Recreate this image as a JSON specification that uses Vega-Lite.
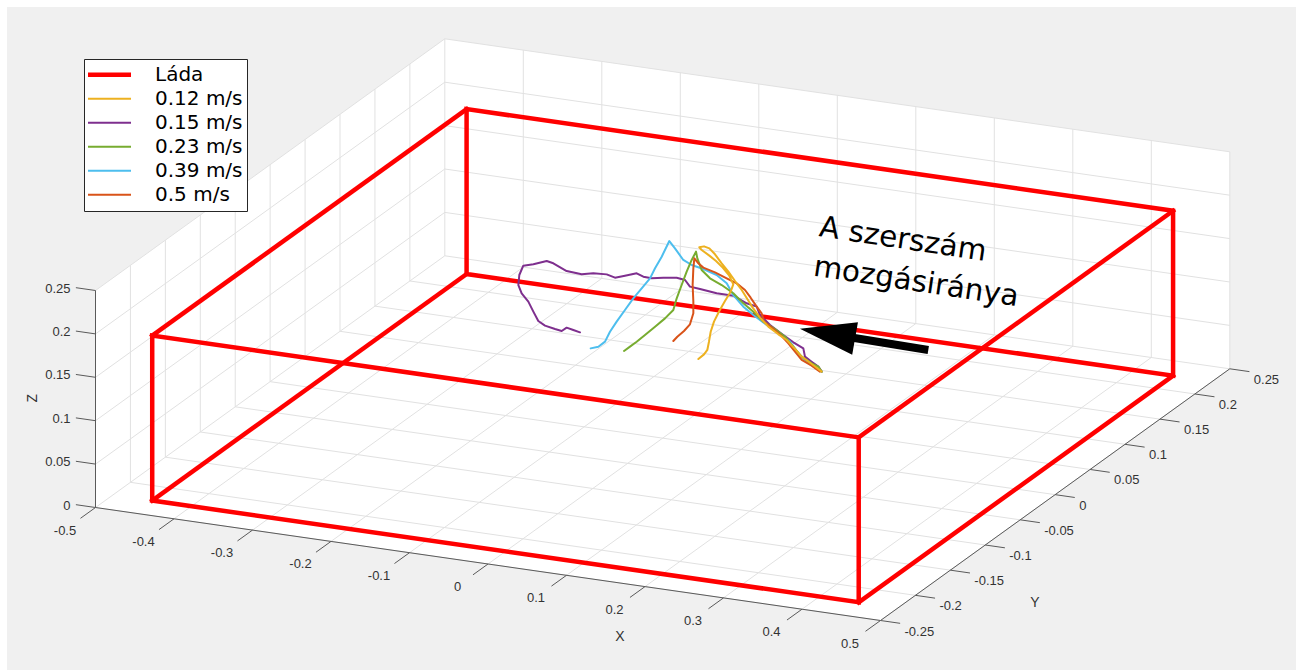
{
"$schema":"https://vega.github.io/schema/vega-lite/v6.json",
"width":1296,"height":670,
"autosize":{"type":"fit","contains":"padding"},
"padding":{"left":7,"top":7,"right":0,"bottom":0},
"background":"white",
"config":{"view":{"fill":"#f0f0f0","stroke":null}},
"datasets":{
"face":[
{"xt":-0.5,"yt":-0.25,"zt":0.25,"xb":-0.5,"yb":-0.25,"zb":0},
{"xt":-0.5,"yt":0.25,"zt":0.25,"xb":-0.05503,"yb":-0.25,"zb":0},
{"xt":0.05503,"yt":0.25,"zt":0.25,"xb":0.5,"yb":-0.25,"zb":0},
{"xt":0.5,"yt":0.25,"zt":0.25,"xb":0.5,"yb":0.25,"zb":0}],
"segs":[
{"k":"g","x1":-0.5,"y1":-0.25,"z1":0,"x2":-0.5,"y2":0.25,"z2":0},
{"k":"g","x1":-0.4,"y1":-0.25,"z1":0,"x2":-0.4,"y2":0.25,"z2":0},
{"k":"g","x1":-0.3,"y1":-0.25,"z1":0,"x2":-0.3,"y2":0.25,"z2":0},
{"k":"g","x1":-0.2,"y1":-0.25,"z1":0,"x2":-0.2,"y2":0.25,"z2":0},
{"k":"g","x1":-0.1,"y1":-0.25,"z1":0,"x2":-0.1,"y2":0.25,"z2":0},
{"k":"g","x1":0,"y1":-0.25,"z1":0,"x2":0,"y2":0.25,"z2":0},
{"k":"g","x1":0.1,"y1":-0.25,"z1":0,"x2":0.1,"y2":0.25,"z2":0},
{"k":"g","x1":0.2,"y1":-0.25,"z1":0,"x2":0.2,"y2":0.25,"z2":0},
{"k":"g","x1":0.3,"y1":-0.25,"z1":0,"x2":0.3,"y2":0.25,"z2":0},
{"k":"g","x1":0.4,"y1":-0.25,"z1":0,"x2":0.4,"y2":0.25,"z2":0},
{"k":"g","x1":0.5,"y1":-0.25,"z1":0,"x2":0.5,"y2":0.25,"z2":0},
{"k":"g","x1":-0.5,"y1":-0.25,"z1":0,"x2":0.5,"y2":-0.25,"z2":0},
{"k":"g","x1":-0.5,"y1":-0.2,"z1":0,"x2":0.5,"y2":-0.2,"z2":0},
{"k":"g","x1":-0.5,"y1":-0.15,"z1":0,"x2":0.5,"y2":-0.15,"z2":0},
{"k":"g","x1":-0.5,"y1":-0.1,"z1":0,"x2":0.5,"y2":-0.1,"z2":0},
{"k":"g","x1":-0.5,"y1":-0.05,"z1":0,"x2":0.5,"y2":-0.05,"z2":0},
{"k":"g","x1":-0.5,"y1":0,"z1":0,"x2":0.5,"y2":0,"z2":0},
{"k":"g","x1":-0.5,"y1":0.05,"z1":0,"x2":0.5,"y2":0.05,"z2":0},
{"k":"g","x1":-0.5,"y1":0.1,"z1":0,"x2":0.5,"y2":0.1,"z2":0},
{"k":"g","x1":-0.5,"y1":0.15,"z1":0,"x2":0.5,"y2":0.15,"z2":0},
{"k":"g","x1":-0.5,"y1":0.2,"z1":0,"x2":0.5,"y2":0.2,"z2":0},
{"k":"g","x1":-0.5,"y1":0.25,"z1":0,"x2":0.5,"y2":0.25,"z2":0},
{"k":"g","x1":-0.5,"y1":-0.25,"z1":0,"x2":-0.5,"y2":-0.25,"z2":0.25},
{"k":"g","x1":-0.5,"y1":-0.2,"z1":0,"x2":-0.5,"y2":-0.2,"z2":0.25},
{"k":"g","x1":-0.5,"y1":-0.15,"z1":0,"x2":-0.5,"y2":-0.15,"z2":0.25},
{"k":"g","x1":-0.5,"y1":-0.1,"z1":0,"x2":-0.5,"y2":-0.1,"z2":0.25},
{"k":"g","x1":-0.5,"y1":-0.05,"z1":0,"x2":-0.5,"y2":-0.05,"z2":0.25},
{"k":"g","x1":-0.5,"y1":0,"z1":0,"x2":-0.5,"y2":0,"z2":0.25},
{"k":"g","x1":-0.5,"y1":0.05,"z1":0,"x2":-0.5,"y2":0.05,"z2":0.25},
{"k":"g","x1":-0.5,"y1":0.1,"z1":0,"x2":-0.5,"y2":0.1,"z2":0.25},
{"k":"g","x1":-0.5,"y1":0.15,"z1":0,"x2":-0.5,"y2":0.15,"z2":0.25},
{"k":"g","x1":-0.5,"y1":0.2,"z1":0,"x2":-0.5,"y2":0.2,"z2":0.25},
{"k":"g","x1":-0.5,"y1":0.25,"z1":0,"x2":-0.5,"y2":0.25,"z2":0.25},
{"k":"g","x1":-0.5,"y1":-0.25,"z1":0.05,"x2":-0.5,"y2":0.25,"z2":0.05},
{"k":"g","x1":-0.5,"y1":-0.25,"z1":0.1,"x2":-0.5,"y2":0.25,"z2":0.1},
{"k":"g","x1":-0.5,"y1":-0.25,"z1":0.15,"x2":-0.5,"y2":0.25,"z2":0.15},
{"k":"g","x1":-0.5,"y1":-0.25,"z1":0.2,"x2":-0.5,"y2":0.25,"z2":0.2},
{"k":"g","x1":-0.5,"y1":-0.25,"z1":0.25,"x2":-0.5,"y2":0.25,"z2":0.25},
{"k":"g","x1":-0.4,"y1":0.25,"z1":0,"x2":-0.4,"y2":0.25,"z2":0.25},
{"k":"g","x1":-0.3,"y1":0.25,"z1":0,"x2":-0.3,"y2":0.25,"z2":0.25},
{"k":"g","x1":-0.2,"y1":0.25,"z1":0,"x2":-0.2,"y2":0.25,"z2":0.25},
{"k":"g","x1":-0.1,"y1":0.25,"z1":0,"x2":-0.1,"y2":0.25,"z2":0.25},
{"k":"g","x1":0,"y1":0.25,"z1":0,"x2":0,"y2":0.25,"z2":0.25},
{"k":"g","x1":0.1,"y1":0.25,"z1":0,"x2":0.1,"y2":0.25,"z2":0.25},
{"k":"g","x1":0.2,"y1":0.25,"z1":0,"x2":0.2,"y2":0.25,"z2":0.25},
{"k":"g","x1":0.3,"y1":0.25,"z1":0,"x2":0.3,"y2":0.25,"z2":0.25},
{"k":"g","x1":0.4,"y1":0.25,"z1":0,"x2":0.4,"y2":0.25,"z2":0.25},
{"k":"g","x1":0.5,"y1":0.25,"z1":0,"x2":0.5,"y2":0.25,"z2":0.25},
{"k":"g","x1":-0.5,"y1":0.25,"z1":0.05,"x2":0.5,"y2":0.25,"z2":0.05},
{"k":"g","x1":-0.5,"y1":0.25,"z1":0.1,"x2":0.5,"y2":0.25,"z2":0.1},
{"k":"g","x1":-0.5,"y1":0.25,"z1":0.15,"x2":0.5,"y2":0.25,"z2":0.15},
{"k":"g","x1":-0.5,"y1":0.25,"z1":0.2,"x2":0.5,"y2":0.25,"z2":0.2},
{"k":"g","x1":-0.5,"y1":0.25,"z1":0.25,"x2":0.5,"y2":0.25,"z2":0.25},
{"k":"a","x1":-0.5,"y1":-0.25,"z1":0,"x2":0.5,"y2":-0.25,"z2":0},
{"k":"a","x1":0.5,"y1":-0.25,"z1":0,"x2":0.5,"y2":0.25,"z2":0},
{"k":"a","x1":-0.5,"y1":-0.25,"z1":0,"x2":-0.5,"y2":-0.25,"z2":0.25},
{"k":"a","x1":-0.5,"y1":-0.25,"z1":0,"x2":-0.5,"y2":-0.2715,"z2":0},
{"k":"a","x1":-0.4,"y1":-0.25,"z1":0,"x2":-0.4,"y2":-0.2715,"z2":0},
{"k":"a","x1":-0.3,"y1":-0.25,"z1":0,"x2":-0.3,"y2":-0.2715,"z2":0},
{"k":"a","x1":-0.2,"y1":-0.25,"z1":0,"x2":-0.2,"y2":-0.2715,"z2":0},
{"k":"a","x1":-0.1,"y1":-0.25,"z1":0,"x2":-0.1,"y2":-0.2715,"z2":0},
{"k":"a","x1":0,"y1":-0.25,"z1":0,"x2":0,"y2":-0.2715,"z2":0},
{"k":"a","x1":0.1,"y1":-0.25,"z1":0,"x2":0.1,"y2":-0.2715,"z2":0},
{"k":"a","x1":0.2,"y1":-0.25,"z1":0,"x2":0.2,"y2":-0.2715,"z2":0},
{"k":"a","x1":0.3,"y1":-0.25,"z1":0,"x2":0.3,"y2":-0.2715,"z2":0},
{"k":"a","x1":0.4,"y1":-0.25,"z1":0,"x2":0.4,"y2":-0.2715,"z2":0},
{"k":"a","x1":0.5,"y1":-0.25,"z1":0,"x2":0.5,"y2":-0.2715,"z2":0},
{"k":"a","x1":0.5,"y1":-0.25,"z1":0,"x2":0.525,"y2":-0.25,"z2":0},
{"k":"a","x1":0.5,"y1":-0.2,"z1":0,"x2":0.525,"y2":-0.2,"z2":0},
{"k":"a","x1":0.5,"y1":-0.15,"z1":0,"x2":0.525,"y2":-0.15,"z2":0},
{"k":"a","x1":0.5,"y1":-0.1,"z1":0,"x2":0.525,"y2":-0.1,"z2":0},
{"k":"a","x1":0.5,"y1":-0.05,"z1":0,"x2":0.525,"y2":-0.05,"z2":0},
{"k":"a","x1":0.5,"y1":0,"z1":0,"x2":0.525,"y2":0,"z2":0},
{"k":"a","x1":0.5,"y1":0.05,"z1":0,"x2":0.525,"y2":0.05,"z2":0},
{"k":"a","x1":0.5,"y1":0.1,"z1":0,"x2":0.525,"y2":0.1,"z2":0},
{"k":"a","x1":0.5,"y1":0.15,"z1":0,"x2":0.525,"y2":0.15,"z2":0},
{"k":"a","x1":0.5,"y1":0.2,"z1":0,"x2":0.525,"y2":0.2,"z2":0},
{"k":"a","x1":0.5,"y1":0.25,"z1":0,"x2":0.525,"y2":0.25,"z2":0},
{"k":"a","x1":-0.5,"y1":-0.25,"z1":0,"x2":-0.525,"y2":-0.25,"z2":0},
{"k":"a","x1":-0.5,"y1":-0.25,"z1":0.05,"x2":-0.525,"y2":-0.25,"z2":0.05},
{"k":"a","x1":-0.5,"y1":-0.25,"z1":0.1,"x2":-0.525,"y2":-0.25,"z2":0.1},
{"k":"a","x1":-0.5,"y1":-0.25,"z1":0.15,"x2":-0.525,"y2":-0.25,"z2":0.15},
{"k":"a","x1":-0.5,"y1":-0.25,"z1":0.2,"x2":-0.525,"y2":-0.25,"z2":0.2},
{"k":"a","x1":-0.5,"y1":-0.25,"z1":0.25,"x2":-0.525,"y2":-0.25,"z2":0.25},
{"k":"arrow","x1":0.3384,"y1":0,"z1":0.1456,"x2":0.2345,"y2":0,"z2":0.1474}],
"xlab":[
{"X":-0.5,"Y":-0.25,"Z":0,"t":"-0.5"},{"X":-0.4,"Y":-0.25,"Z":0,"t":"-0.4"},{"X":-0.3,"Y":-0.25,"Z":0,"t":"-0.3"},{"X":-0.2,"Y":-0.25,"Z":0,"t":"-0.2"},{"X":-0.1,"Y":-0.25,"Z":0,"t":"-0.1"},{"X":0,"Y":-0.25,"Z":0,"t":"0"},{"X":0.1,"Y":-0.25,"Z":0,"t":"0.1"},{"X":0.2,"Y":-0.25,"Z":0,"t":"0.2"},{"X":0.3,"Y":-0.25,"Z":0,"t":"0.3"},{"X":0.4,"Y":-0.25,"Z":0,"t":"0.4"},{"X":0.5,"Y":-0.25,"Z":0,"t":"0.5"}],
"ylab":[
{"X":0.5,"Y":-0.25,"Z":0,"t":"-0.25"},{"X":0.5,"Y":-0.2,"Z":0,"t":"-0.2"},{"X":0.5,"Y":-0.15,"Z":0,"t":"-0.15"},{"X":0.5,"Y":-0.1,"Z":0,"t":"-0.1"},{"X":0.5,"Y":-0.05,"Z":0,"t":"-0.05"},{"X":0.5,"Y":0,"Z":0,"t":"0"},{"X":0.5,"Y":0.05,"Z":0,"t":"0.05"},{"X":0.5,"Y":0.1,"Z":0,"t":"0.1"},{"X":0.5,"Y":0.15,"Z":0,"t":"0.15"},{"X":0.5,"Y":0.2,"Z":0,"t":"0.2"},{"X":0.5,"Y":0.25,"Z":0,"t":"0.25"}],
"zlab":[
{"X":-0.5,"Y":-0.25,"Z":0,"t":"0"},{"X":-0.5,"Y":-0.25,"Z":0.05,"t":"0.05"},{"X":-0.5,"Y":-0.25,"Z":0.1,"t":"0.1"},{"X":-0.5,"Y":-0.25,"Z":0.15,"t":"0.15"},{"X":-0.5,"Y":-0.25,"Z":0.2,"t":"0.2"},{"X":-0.5,"Y":-0.25,"Z":0.25,"t":"0.25"}],
"titles":[{"X":0.2482,"Y":-0.3399,"Z":0,"t":"X"},{"X":0.6387,"Y":-0.1847,"Z":0,"t":"Y"}],
"ztitle":[{"X":-0.5792,"Y":-0.25,"Z":0.1155,"t":"Z"}],
"head":[{"X":0.2100,"Y":0,"Z":0.1478}],
"note":[{"X":0.1983,"Y":0,"Z":0.2587,"t":"A szerszám\nmozgásiránya"}],
"box":[
{"s":"Láda","p":"F","i":0,"X":-0.45,"Y":-0.225,"Z":0},{"s":"Láda","p":"F","i":1,"X":0.45,"Y":-0.225,"Z":0},{"s":"Láda","p":"F","i":2,"X":0.45,"Y":-0.225,"Z":0.19},{"s":"Láda","p":"F","i":3,"X":-0.45,"Y":-0.225,"Z":0.19},{"s":"Láda","p":"F","i":4,"X":-0.45,"Y":-0.225,"Z":0},
{"s":"Láda","p":"B","i":0,"X":-0.45,"Y":0.225,"Z":0},{"s":"Láda","p":"B","i":1,"X":0.45,"Y":0.225,"Z":0},{"s":"Láda","p":"B","i":2,"X":0.45,"Y":0.225,"Z":0.19},{"s":"Láda","p":"B","i":3,"X":-0.45,"Y":0.225,"Z":0.19},{"s":"Láda","p":"B","i":4,"X":-0.45,"Y":0.225,"Z":0},
{"s":"Láda","p":"C1","i":0,"X":-0.45,"Y":-0.225,"Z":0},{"s":"Láda","p":"C1","i":1,"X":-0.45,"Y":0.225,"Z":0},
{"s":"Láda","p":"C2","i":0,"X":0.45,"Y":-0.225,"Z":0},{"s":"Láda","p":"C2","i":1,"X":0.45,"Y":0.225,"Z":0},
{"s":"Láda","p":"C3","i":0,"X":0.45,"Y":-0.225,"Z":0.19},{"s":"Láda","p":"C3","i":1,"X":0.45,"Y":0.225,"Z":0.19},
{"s":"Láda","p":"C4","i":0,"X":-0.45,"Y":-0.225,"Z":0.19},{"s":"Láda","p":"C4","i":1,"X":-0.45,"Y":0.225,"Z":0.19}],
"paths":[
{"s":"0.15 m/s","p":"v15","i":0,"X":0.2026,"Y":0,"Z":0.1030},{"s":"0.15 m/s","p":"v15","i":1,"X":0.1983,"Y":0,"Z":0.1082},{"s":"0.15 m/s","p":"v15","i":2,"X":0.1898,"Y":0,"Z":0.1128},{"s":"0.15 m/s","p":"v15","i":3,"X":0.1813,"Y":0,"Z":0.1175},{"s":"0.15 m/s","p":"v15","i":4,"X":0.1792,"Y":0,"Z":0.1268},{"s":"0.15 m/s","p":"v15","i":5,"X":0.1665,"Y":0,"Z":0.1321},{"s":"0.15 m/s","p":"v15","i":6,"X":0.1537,"Y":0,"Z":0.1389},{"s":"0.15 m/s","p":"v15","i":7,"X":0.1368,"Y":0,"Z":0.1482},{"s":"0.15 m/s","p":"v15","i":8,"X":0.1240,"Y":0,"Z":0.1580},{"s":"0.15 m/s","p":"v15","i":9,"X":0.1198,"Y":0,"Z":0.1671},{"s":"0.15 m/s","p":"v15","i":10,"X":0.1070,"Y":0,"Z":0.1693},{"s":"0.15 m/s","p":"v15","i":11,"X":0.0900,"Y":0,"Z":0.1759},{"s":"0.15 m/s","p":"v15","i":12,"X":0.0688,"Y":0,"Z":0.1758},{"s":"0.15 m/s","p":"v15","i":13,"X":0.0476,"Y":0,"Z":0.1780},{"s":"0.15 m/s","p":"v15","i":14,"X":0.0348,"Y":0,"Z":0.1791},{"s":"0.15 m/s","p":"v15","i":15,"X":0.0285,"Y":0,"Z":0.1859},{"s":"0.15 m/s","p":"v15","i":16,"X":0.0179,"Y":0,"Z":0.1872},{"s":"0.15 m/s","p":"v15","i":17,"X":0.0009,"Y":0,"Z":0.1850},{"s":"0.15 m/s","p":"v15","i":18,"X":-0.0140,"Y":0,"Z":0.1823},{"s":"0.15 m/s","p":"v15","i":19,"X":-0.0246,"Y":0,"Z":0.1828},{"s":"0.15 m/s","p":"v15","i":20,"X":-0.0331,"Y":0,"Z":0.1856},{"s":"0.15 m/s","p":"v15","i":21,"X":-0.0480,"Y":0,"Z":0.1809},{"s":"0.15 m/s","p":"v15","i":22,"X":-0.0607,"Y":0,"Z":0.1770},{"s":"0.15 m/s","p":"v15","i":23,"X":-0.0713,"Y":0,"Z":0.1794},{"s":"0.15 m/s","p":"v15","i":24,"X":-0.0883,"Y":0,"Z":0.1784},{"s":"0.15 m/s","p":"v15","i":25,"X":-0.1032,"Y":0,"Z":0.1753},{"s":"0.15 m/s","p":"v15","i":26,"X":-0.1223,"Y":0,"Z":0.1766},{"s":"0.15 m/s","p":"v15","i":27,"X":-0.1393,"Y":0,"Z":0.1833},{"s":"0.15 m/s","p":"v15","i":28,"X":-0.1477,"Y":0,"Z":0.1849},{"s":"0.15 m/s","p":"v15","i":29,"X":-0.1647,"Y":0,"Z":0.1788},{"s":"0.15 m/s","p":"v15","i":30,"X":-0.1775,"Y":0,"Z":0.1756},{"s":"0.15 m/s","p":"v15","i":31,"X":-0.1826,"Y":0,"Z":0.1642},{"s":"0.15 m/s","p":"v15","i":32,"X":-0.1838,"Y":0,"Z":0.1525},{"s":"0.15 m/s","p":"v15","i":33,"X":-0.1796,"Y":0,"Z":0.1435},{"s":"0.15 m/s","p":"v15","i":34,"X":-0.1711,"Y":0,"Z":0.1350},{"s":"0.15 m/s","p":"v15","i":35,"X":-0.1647,"Y":0,"Z":0.1243},{"s":"0.15 m/s","p":"v15","i":36,"X":-0.1584,"Y":0,"Z":0.1143},{"s":"0.15 m/s","p":"v15","i":37,"X":-0.1499,"Y":0,"Z":0.1101},{"s":"0.15 m/s","p":"v15","i":38,"X":-0.1371,"Y":0,"Z":0.1079},{"s":"0.15 m/s","p":"v15","i":39,"X":-0.1286,"Y":0,"Z":0.1067},{"s":"0.15 m/s","p":"v15","i":40,"X":-0.1223,"Y":0,"Z":0.1114},{"s":"0.15 m/s","p":"v15","i":41,"X":-0.1138,"Y":0,"Z":0.1098},{"s":"0.15 m/s","p":"v15","i":42,"X":-0.1053,"Y":0,"Z":0.1082},
{"s":"0.39 m/s","p":"v39","i":0,"X":-0.0917,"Y":0,"Z":0.0915},{"s":"0.39 m/s","p":"v39","i":1,"X":-0.0819,"Y":0,"Z":0.0947},{"s":"0.39 m/s","p":"v39","i":2,"X":-0.0734,"Y":0,"Z":0.1016},{"s":"0.39 m/s","p":"v39","i":3,"X":-0.0671,"Y":0,"Z":0.1139},{"s":"0.39 m/s","p":"v39","i":4,"X":-0.0586,"Y":0,"Z":0.1266},{"s":"0.39 m/s","p":"v39","i":5,"X":-0.0480,"Y":0,"Z":0.1414},{"s":"0.39 m/s","p":"v39","i":6,"X":-0.0374,"Y":0,"Z":0.1562},{"s":"0.39 m/s","p":"v39","i":7,"X":-0.0267,"Y":0,"Z":0.1691},{"s":"0.39 m/s","p":"v39","i":8,"X":-0.0161,"Y":0,"Z":0.1820},{"s":"0.39 m/s","p":"v39","i":9,"X":-0.0097,"Y":0,"Z":0.1944},{"s":"0.39 m/s","p":"v39","i":10,"X":-0.0012,"Y":0,"Z":0.2089},{"s":"0.39 m/s","p":"v39","i":11,"X":0.0085,"Y":0,"Z":0.2282},{"s":"0.39 m/s","p":"v39","i":12,"X":0.0157,"Y":0,"Z":0.2207},{"s":"0.39 m/s","p":"v39","i":13,"X":0.0263,"Y":0,"Z":0.2087},{"s":"0.39 m/s","p":"v39","i":14,"X":0.0370,"Y":0,"Z":0.2043},{"s":"0.39 m/s","p":"v39","i":15,"X":0.0518,"Y":0,"Z":0.2016},{"s":"0.39 m/s","p":"v39","i":16,"X":0.0688,"Y":0,"Z":0.1969},{"s":"0.39 m/s","p":"v39","i":17,"X":0.0816,"Y":0,"Z":0.1890},{"s":"0.39 m/s","p":"v39","i":18,"X":0.0900,"Y":0,"Z":0.1766},{"s":"0.39 m/s","p":"v39","i":19,"X":0.1028,"Y":0,"Z":0.1648},{"s":"0.39 m/s","p":"v39","i":20,"X":0.1155,"Y":0,"Z":0.1569},{"s":"0.39 m/s","p":"v39","i":21,"X":0.1325,"Y":0,"Z":0.1476},{"s":"0.39 m/s","p":"v39","i":22,"X":0.1495,"Y":0,"Z":0.1402},{"s":"0.39 m/s","p":"v39","i":23,"X":0.1622,"Y":0,"Z":0.1323},{"s":"0.39 m/s","p":"v39","i":24,"X":0.1728,"Y":0,"Z":0.1202},{"s":"0.39 m/s","p":"v39","i":25,"X":0.1835,"Y":0,"Z":0.1120},{"s":"0.39 m/s","p":"v39","i":26,"X":0.1941,"Y":0,"Z":0.1065},{"s":"0.39 m/s","p":"v39","i":27,"X":0.2026,"Y":0,"Z":0.1030},
{"s":"0.23 m/s","p":"v23","i":0,"X":-0.0492,"Y":0,"Z":0.0940},{"s":"0.23 m/s","p":"v23","i":1,"X":-0.0416,"Y":0,"Z":0.1000},{"s":"0.23 m/s","p":"v23","i":2,"X":-0.0331,"Y":0,"Z":0.1068},{"s":"0.23 m/s","p":"v23","i":3,"X":-0.0225,"Y":0,"Z":0.1159},{"s":"0.23 m/s","p":"v23","i":4,"X":-0.0097,"Y":0,"Z":0.1272},{"s":"0.23 m/s","p":"v23","i":5,"X":0.0030,"Y":0,"Z":0.1384},{"s":"0.23 m/s","p":"v23","i":6,"X":0.0136,"Y":0,"Z":0.1494},{"s":"0.23 m/s","p":"v23","i":7,"X":0.0179,"Y":0,"Z":0.1634},{"s":"0.23 m/s","p":"v23","i":8,"X":0.0242,"Y":0,"Z":0.1796},{"s":"0.23 m/s","p":"v23","i":9,"X":0.0306,"Y":0,"Z":0.1958},{"s":"0.23 m/s","p":"v23","i":10,"X":0.0370,"Y":0,"Z":0.2101},{"s":"0.23 m/s","p":"v23","i":11,"X":0.0425,"Y":0,"Z":0.2204},{"s":"0.23 m/s","p":"v23","i":12,"X":0.0442,"Y":0,"Z":0.2129},{"s":"0.23 m/s","p":"v23","i":13,"X":0.0497,"Y":0,"Z":0.2002},{"s":"0.23 m/s","p":"v23","i":14,"X":0.0603,"Y":0,"Z":0.1920},{"s":"0.23 m/s","p":"v23","i":15,"X":0.0752,"Y":0,"Z":0.1862},{"s":"0.23 m/s","p":"v23","i":16,"X":0.0900,"Y":0,"Z":0.1786},{"s":"0.23 m/s","p":"v23","i":17,"X":0.1028,"Y":0,"Z":0.1687},{"s":"0.23 m/s","p":"v23","i":18,"X":0.1155,"Y":0,"Z":0.1607},{"s":"0.23 m/s","p":"v23","i":19,"X":0.1283,"Y":0,"Z":0.1509},{"s":"0.23 m/s","p":"v23","i":20,"X":0.1431,"Y":0,"Z":0.1444},{"s":"0.23 m/s","p":"v23","i":21,"X":0.1559,"Y":0,"Z":0.1372},{"s":"0.23 m/s","p":"v23","i":22,"X":0.1644,"Y":0,"Z":0.1287},{"s":"0.23 m/s","p":"v23","i":23,"X":0.1771,"Y":0,"Z":0.1169},{"s":"0.23 m/s","p":"v23","i":24,"X":0.1898,"Y":0,"Z":0.1109},{"s":"0.23 m/s","p":"v23","i":25,"X":0.1983,"Y":0,"Z":0.1082},{"s":"0.23 m/s","p":"v23","i":26,"X":0.2026,"Y":0,"Z":0.1030},
{"s":"0.5 m/s","p":"v50","i":0,"X":0.0136,"Y":0,"Z":0.1137},{"s":"0.5 m/s","p":"v50","i":1,"X":0.0187,"Y":0,"Z":0.1193},{"s":"0.5 m/s","p":"v50","i":2,"X":0.0272,"Y":0,"Z":0.1270},{"s":"0.5 m/s","p":"v50","i":3,"X":0.0348,"Y":0,"Z":0.1357},{"s":"0.5 m/s","p":"v50","i":4,"X":0.0391,"Y":0,"Z":0.1489},{"s":"0.5 m/s","p":"v50","i":5,"X":0.0391,"Y":0,"Z":0.1623},{"s":"0.5 m/s","p":"v50","i":6,"X":0.0382,"Y":0,"Z":0.1814},{"s":"0.5 m/s","p":"v50","i":7,"X":0.0391,"Y":0,"Z":0.2007},{"s":"0.5 m/s","p":"v50","i":8,"X":0.0404,"Y":0,"Z":0.2124},{"s":"0.5 m/s","p":"v50","i":9,"X":0.0455,"Y":0,"Z":0.2073},{"s":"0.5 m/s","p":"v50","i":10,"X":0.0518,"Y":0,"Z":0.2032},{"s":"0.5 m/s","p":"v50","i":11,"X":0.0667,"Y":0,"Z":0.1997},{"s":"0.5 m/s","p":"v50","i":12,"X":0.0816,"Y":0,"Z":0.1947},{"s":"0.5 m/s","p":"v50","i":13,"X":0.0943,"Y":0,"Z":0.1906},{"s":"0.5 m/s","p":"v50","i":14,"X":0.1049,"Y":0,"Z":0.1843},{"s":"0.5 m/s","p":"v50","i":15,"X":0.1121,"Y":0,"Z":0.1764},{"s":"0.5 m/s","p":"v50","i":16,"X":0.1189,"Y":0,"Z":0.1681},{"s":"0.5 m/s","p":"v50","i":17,"X":0.1261,"Y":0,"Z":0.1602},{"s":"0.5 m/s","p":"v50","i":18,"X":0.1291,"Y":0,"Z":0.1510},{"s":"0.5 m/s","p":"v50","i":19,"X":0.1389,"Y":0,"Z":0.1454},{"s":"0.5 m/s","p":"v50","i":20,"X":0.1516,"Y":0,"Z":0.1374},{"s":"0.5 m/s","p":"v50","i":21,"X":0.1601,"Y":0,"Z":0.1301},{"s":"0.5 m/s","p":"v50","i":22,"X":0.1686,"Y":0,"Z":0.1216},{"s":"0.5 m/s","p":"v50","i":23,"X":0.1771,"Y":0,"Z":0.1131},{"s":"0.5 m/s","p":"v50","i":24,"X":0.1898,"Y":0,"Z":0.1082},{"s":"0.5 m/s","p":"v50","i":25,"X":0.2004,"Y":0,"Z":0.1027},
{"s":"0.12 m/s","p":"v12","i":0,"X":0.0455,"Y":0,"Z":0.0971},{"s":"0.12 m/s","p":"v12","i":1,"X":0.0527,"Y":0,"Z":0.1034},{"s":"0.12 m/s","p":"v12","i":2,"X":0.0569,"Y":0,"Z":0.1090},{"s":"0.12 m/s","p":"v12","i":3,"X":0.0590,"Y":0,"Z":0.1188},{"s":"0.12 m/s","p":"v12","i":4,"X":0.0612,"Y":0,"Z":0.1306},{"s":"0.12 m/s","p":"v12","i":5,"X":0.0654,"Y":0,"Z":0.1427},{"s":"0.12 m/s","p":"v12","i":6,"X":0.0722,"Y":0,"Z":0.1559},{"s":"0.12 m/s","p":"v12","i":7,"X":0.0794,"Y":0,"Z":0.1684},{"s":"0.12 m/s","p":"v12","i":8,"X":0.0866,"Y":0,"Z":0.1800},{"s":"0.12 m/s","p":"v12","i":9,"X":0.0900,"Y":0,"Z":0.1889},{"s":"0.12 m/s","p":"v12","i":10,"X":0.0849,"Y":0,"Z":0.1982},{"s":"0.12 m/s","p":"v12","i":11,"X":0.0765,"Y":0,"Z":0.2064},{"s":"0.12 m/s","p":"v12","i":12,"X":0.0680,"Y":0,"Z":0.2129},{"s":"0.12 m/s","p":"v12","i":13,"X":0.0595,"Y":0,"Z":0.2180},{"s":"0.12 m/s","p":"v12","i":14,"X":0.0497,"Y":0,"Z":0.2232},{"s":"0.12 m/s","p":"v12","i":15,"X":0.0467,"Y":0,"Z":0.2259},{"s":"0.12 m/s","p":"v12","i":16,"X":0.0527,"Y":0,"Z":0.2278},{"s":"0.12 m/s","p":"v12","i":17,"X":0.0595,"Y":0,"Z":0.2264},{"s":"0.12 m/s","p":"v12","i":18,"X":0.0667,"Y":0,"Z":0.2205},{"s":"0.12 m/s","p":"v12","i":19,"X":0.0752,"Y":0,"Z":0.2112},{"s":"0.12 m/s","p":"v12","i":20,"X":0.0837,"Y":0,"Z":0.2027},{"s":"0.12 m/s","p":"v12","i":21,"X":0.0922,"Y":0,"Z":0.1930},{"s":"0.12 m/s","p":"v12","i":22,"X":0.1007,"Y":0,"Z":0.1838},{"s":"0.12 m/s","p":"v12","i":23,"X":0.1079,"Y":0,"Z":0.1744},{"s":"0.12 m/s","p":"v12","i":24,"X":0.1147,"Y":0,"Z":0.1653},{"s":"0.12 m/s","p":"v12","i":25,"X":0.1240,"Y":0,"Z":0.1550},{"s":"0.12 m/s","p":"v12","i":26,"X":0.1346,"Y":0,"Z":0.1460},{"s":"0.12 m/s","p":"v12","i":27,"X":0.1474,"Y":0,"Z":0.1388},{"s":"0.12 m/s","p":"v12","i":28,"X":0.1580,"Y":0,"Z":0.1336},{"s":"0.12 m/s","p":"v12","i":29,"X":0.1673,"Y":0,"Z":0.1260},{"s":"0.12 m/s","p":"v12","i":30,"X":0.1758,"Y":0,"Z":0.1179},{"s":"0.12 m/s","p":"v12","i":31,"X":0.1869,"Y":0,"Z":0.1117},{"s":"0.12 m/s","p":"v12","i":32,"X":0.1962,"Y":0,"Z":0.1067},{"s":"0.12 m/s","p":"v12","i":33,"X":0.2026,"Y":0,"Z":0.1030}]
},
"encoding":{
"x":{"field":"sx","type":"quantitative","scale":{"domain":[7,1296],"nice":false,"zero":false},"axis":null},
"y":{"field":"sy","type":"quantitative","scale":{"domain":[7,670],"nice":false,"zero":false,"reverse":true},"axis":null}
},
"layer":[
{"data":{"name":"face"},
 "transform":[{"calculate":"662.65+785*datum.xt+698.6*datum.yt","as":"sx"},{"calculate":"438.15+113*datum.xt-503.4*datum.yt-868*datum.zt","as":"sy"},{"calculate":"438.15+113*datum.xb-503.4*datum.yb-868*datum.zb","as":"sy2"}],
 "mark":{"type":"area","fill":"white","stroke":null,"opacity":1},
 "encoding":{"y2":{"field":"sy2"}}},
{"data":{"name":"segs"},
 "transform":[{"filter":"datum.k==='g'"},{"calculate":"662.65+785*datum.x1+698.6*datum.y1","as":"sx"},{"calculate":"438.15+113*datum.x1-503.4*datum.y1-868*datum.z1","as":"sy"},{"calculate":"662.65+785*datum.x2+698.6*datum.y2","as":"sx2"},{"calculate":"438.15+113*datum.x2-503.4*datum.y2-868*datum.z2","as":"sy2"}],
 "mark":{"type":"rule","color":"#e1e1e1","strokeWidth":1},
 "encoding":{"x2":{"field":"sx2"},"y2":{"field":"sy2"}}},
{"data":{"name":"segs"},
 "transform":[{"filter":"datum.k==='a'"},{"calculate":"662.65+785*datum.x1+698.6*datum.y1","as":"sx"},{"calculate":"438.15+113*datum.x1-503.4*datum.y1-868*datum.z1","as":"sy"},{"calculate":"662.65+785*datum.x2+698.6*datum.y2","as":"sx2"},{"calculate":"438.15+113*datum.x2-503.4*datum.y2-868*datum.z2","as":"sy2"}],
 "mark":{"type":"rule","color":"#5a5a5a","strokeWidth":1},
 "encoding":{"x2":{"field":"sx2"},"y2":{"field":"sy2"}}},
{"data":{"name":"xlab"},
 "transform":[{"calculate":"662.65+785*datum.X+698.6*datum.Y","as":"sx"},{"calculate":"438.15+113*datum.X-503.4*datum.Y-868*datum.Z","as":"sy"}],
 "mark":{"type":"text","font":"Liberation Sans","fontSize":13,"color":"#333333","align":"center","baseline":"middle","dx":-30.5,"dy":23},
 "encoding":{"text":{"field":"t","type":"nominal"}}},
{"data":{"name":"ylab"},
 "transform":[{"calculate":"662.65+785*datum.X+698.6*datum.Y","as":"sx"},{"calculate":"438.15+113*datum.X-503.4*datum.Y-868*datum.Z","as":"sy"}],
 "mark":{"type":"text","font":"Liberation Sans","fontSize":13,"color":"#333333","align":"left","baseline":"middle","dx":24,"dy":11},
 "encoding":{"text":{"field":"t","type":"nominal"}}},
{"data":{"name":"zlab"},
 "transform":[{"calculate":"662.65+785*datum.X+698.6*datum.Y","as":"sx"},{"calculate":"438.15+113*datum.X-503.4*datum.Y-868*datum.Z","as":"sy"}],
 "mark":{"type":"text","font":"Liberation Sans","fontSize":13,"color":"#333333","align":"right","baseline":"middle","dx":-25,"dy":-2},
 "encoding":{"text":{"field":"t","type":"nominal"}}},
{"data":{"name":"titles"},
 "transform":[{"calculate":"662.65+785*datum.X+698.6*datum.Y","as":"sx"},{"calculate":"438.15+113*datum.X-503.4*datum.Y-868*datum.Z","as":"sy"}],
 "mark":{"type":"text","font":"Liberation Sans","fontSize":14,"color":"#333333","align":"center","baseline":"middle"},
 "encoding":{"text":{"field":"t","type":"nominal"}}},
{"data":{"name":"ztitle"},
 "transform":[{"calculate":"662.65+785*datum.X+698.6*datum.Y","as":"sx"},{"calculate":"438.15+113*datum.X-503.4*datum.Y-868*datum.Z","as":"sy"}],
 "mark":{"type":"text","font":"Liberation Sans","fontSize":14,"color":"#333333","align":"center","baseline":"middle","angle":270},
 "encoding":{"text":{"field":"t","type":"nominal"}}},
{"data":{"name":"box"},
 "transform":[{"calculate":"662.65+785*datum.X+698.6*datum.Y","as":"sx"},{"calculate":"438.15+113*datum.X-503.4*datum.Y-868*datum.Z","as":"sy"}],
 "mark":{"type":"line","strokeWidth":4.5,"strokeJoin":"miter","strokeCap":"square"},
 "encoding":{
  "color":{"field":"s","type":"nominal","scale":{"domain":["Láda","0.12 m/s","0.15 m/s","0.23 m/s","0.39 m/s","0.5 m/s"],"range":["#ff0000","#EDB120","#7E2F8E","#77AC30","#4DBEEE","#D95319"]},
   "legend":{"title":null,"orient":"none","legendX":77,"legendY":52,"symbolType":"stroke","symbolSize":3136,"clipHeight":23.5,"labelFont":"DejaVu Sans","labelFontSize":20,"labelColor":"#000000","labelOffset":42,"symbolOffset":5,"padding":4,"rowPadding":0,"strokeColor":"#262626","fillColor":"#ffffff","labelLimit":400,
    "encode":{"symbols":{"update":{"strokeWidth":{"signal":"datum.value === 'Láda' ? 4.5 : 2"}}}}}},
  "detail":{"field":"p","type":"nominal"},
  "order":{"field":"i","type":"quantitative"}}},
{"data":{"name":"paths"},
 "transform":[{"calculate":"662.65+785*datum.X+698.6*datum.Y","as":"sx"},{"calculate":"438.15+113*datum.X-503.4*datum.Y-868*datum.Z","as":"sy"}],
 "mark":{"type":"line","strokeWidth":2,"strokeJoin":"round","strokeCap":"round"},
 "encoding":{
  "color":{"field":"s","type":"nominal"},
  "detail":{"field":"p","type":"nominal"},
  "order":{"field":"i","type":"quantitative"}}},
{"data":{"name":"segs"},
 "transform":[{"filter":"datum.k==='arrow'"},{"calculate":"662.65+785*datum.x1+698.6*datum.y1","as":"sx"},{"calculate":"438.15+113*datum.x1-503.4*datum.y1-868*datum.z1","as":"sy"},{"calculate":"662.65+785*datum.x2+698.6*datum.y2","as":"sx2"},{"calculate":"438.15+113*datum.x2-503.4*datum.y2-868*datum.z2","as":"sy2"}],
 "mark":{"type":"rule","color":"#000000","strokeWidth":8,"strokeCap":"butt"},
 "encoding":{"x2":{"field":"sx2"},"y2":{"field":"sy2"}}},
{"data":{"name":"head"},
 "transform":[{"calculate":"662.65+785*datum.X+698.6*datum.Y","as":"sx"},{"calculate":"438.15+113*datum.X-503.4*datum.Y-868*datum.Z","as":"sy"}],
 "mark":{"type":"point","shape":"M -1 0 L 1 -0.59 L 1 0.59 Z","size":3136,"angle":10,"filled":true,"color":"#000000","opacity":1,"strokeWidth":0}},
{"data":{"name":"note"},
 "transform":[{"calculate":"662.65+785*datum.X+698.6*datum.Y","as":"sx"},{"calculate":"438.15+113*datum.X-503.4*datum.Y-868*datum.Z","as":"sy"}],
 "mark":{"type":"text","font":"DejaVu Sans","fontSize":29.5,"color":"#000000","align":"left","baseline":"alphabetic","angle":8.5,"lineBreak":"\n","lineHeight":40},
 "encoding":{"text":{"field":"t","type":"nominal"}}}
]
}
